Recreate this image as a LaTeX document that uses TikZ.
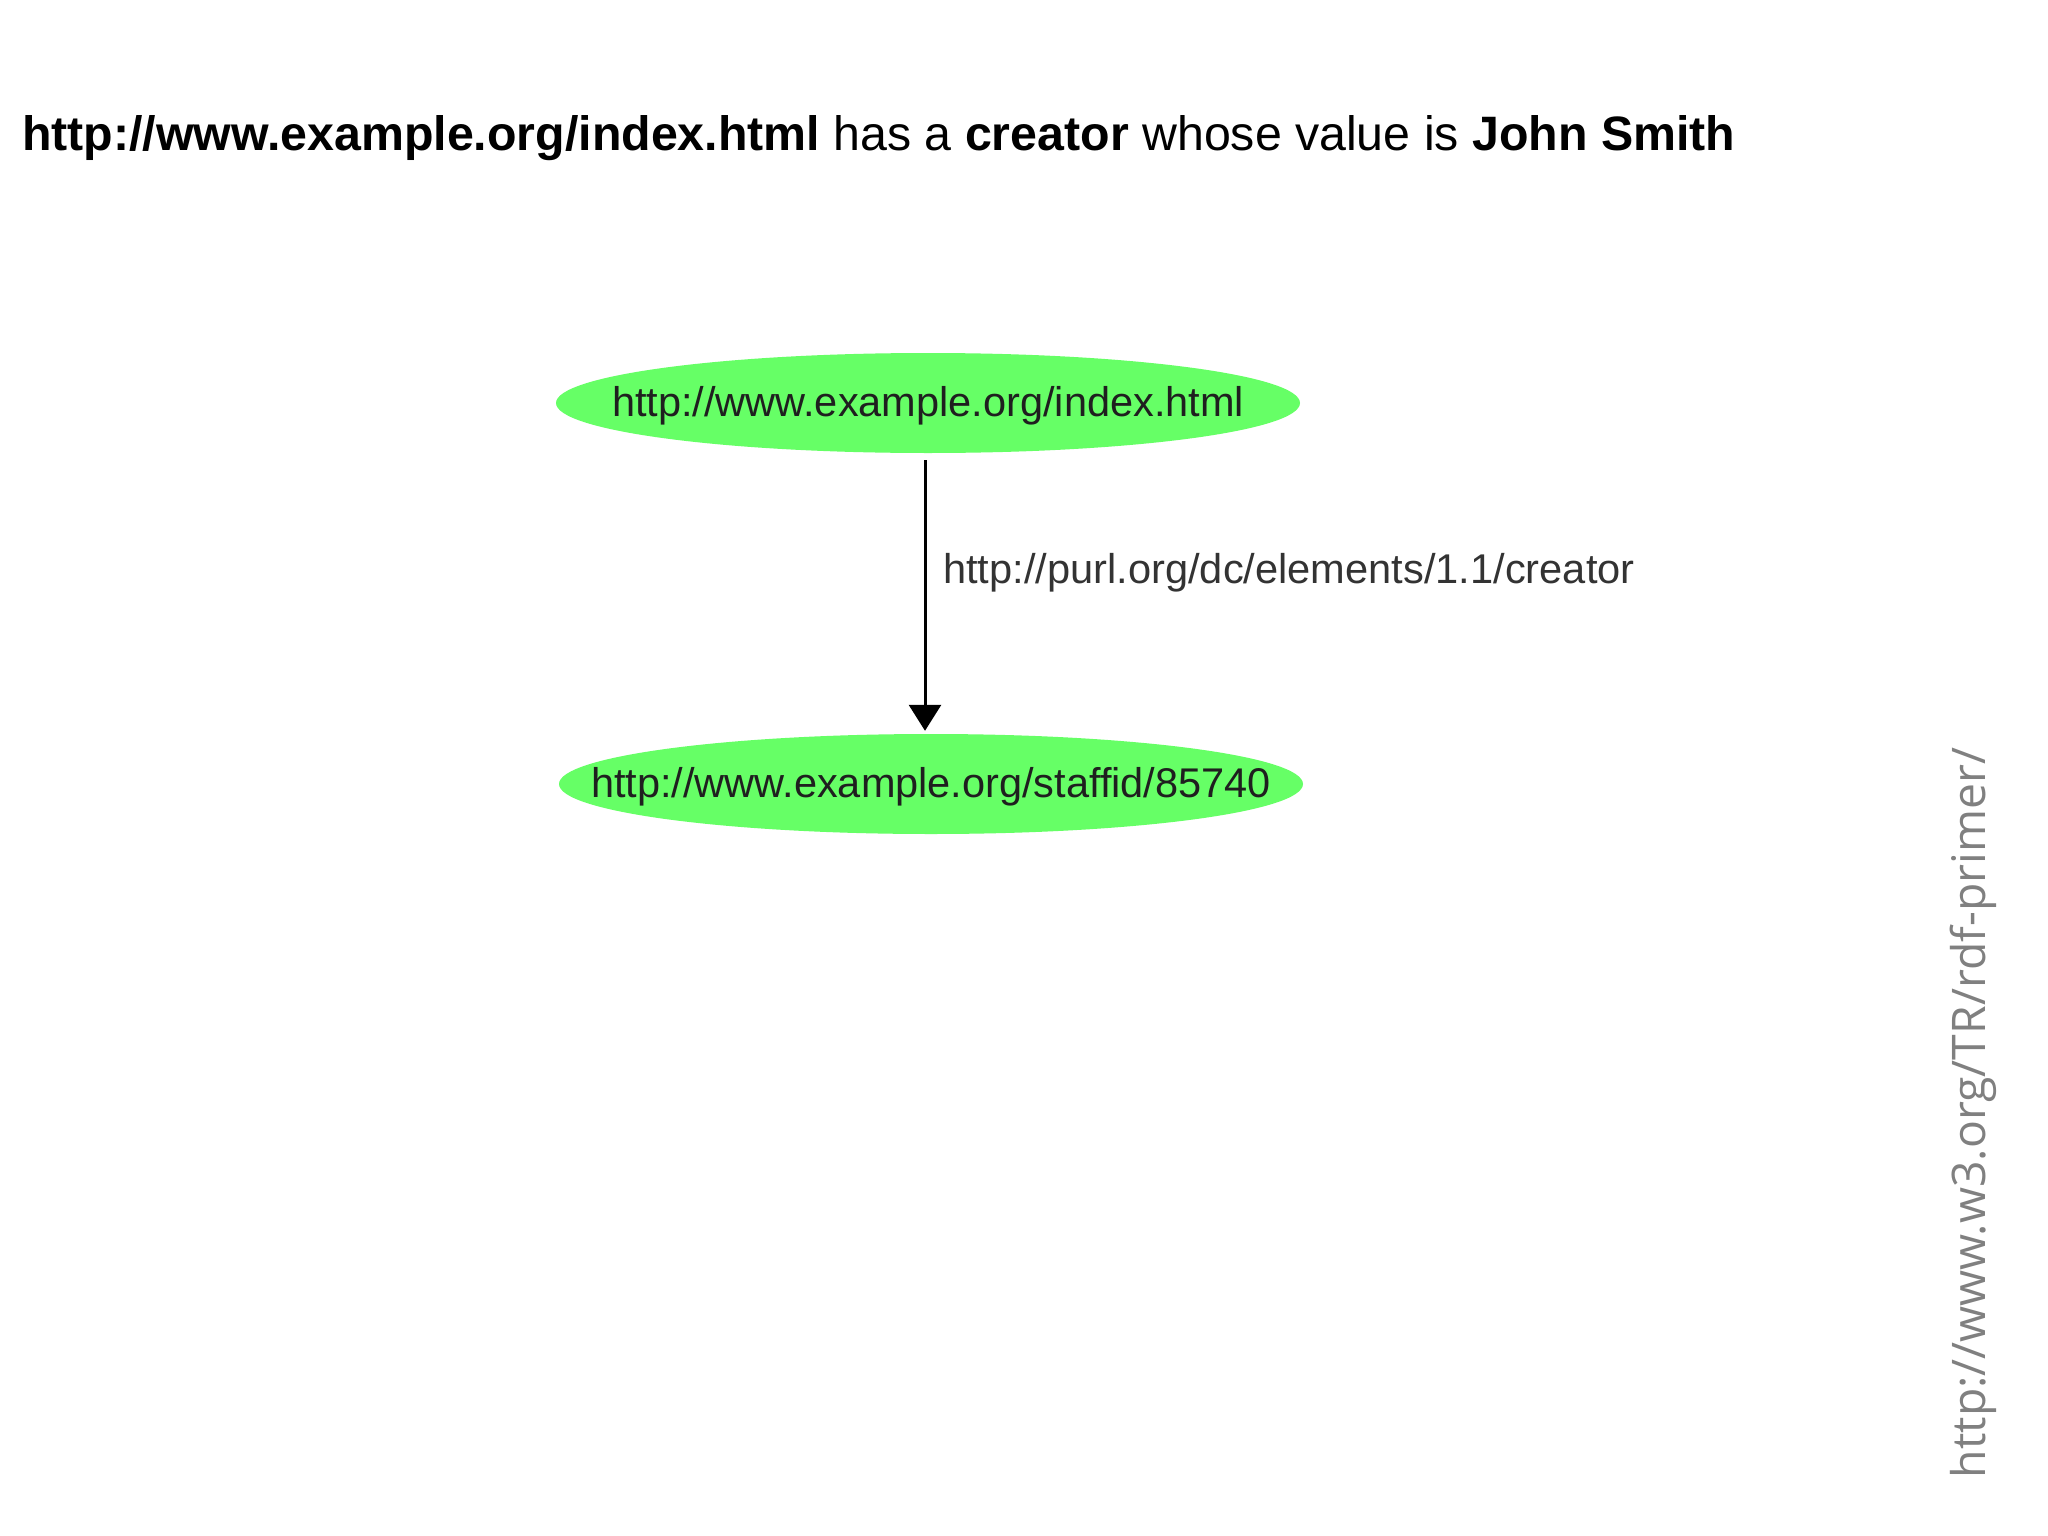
\documentclass[tikz,border=0pt]{standalone}
\usepackage{fontspec}
\setmainfont{Liberation Sans}
\newfontfamily\wmfont{Open Sans}
\usetikzlibrary{shapes.geometric,arrows.meta}
\definecolor{nodegreen}{RGB}{102,255,102}
\definecolor{labelgray}{RGB}{51,51,51}
\definecolor{wmgray}{RGB}{128,128,128}
\tikzset{
  resource/.style={ellipse, fill=nodegreen, draw=none, minimum width=744pt, minimum height=100pt, inner sep=0pt,
    font=\fontsize{41.5}{49}\selectfont, text=black!88},
  prop/.style={font=\fontsize{41.6}{49}\selectfont, text=labelgray, inner sep=0pt},
  link/.style={line width=3pt, -{Triangle[width=32pt,length=26pt]}},
}
\newcommand{\zw}[1]{\makebox[0pt]{\raisebox{-13.5pt}[0pt][0pt]{#1}}}
\begin{document}
\begin{tikzpicture}[x=1pt,y=-1pt]
\useasboundingbox (0,0) rectangle (2048,1536);
\fill[white] (0,0) rectangle (2048,1536);
\node[anchor=base west, inner sep=0pt, font=\fontsize{48.3}{58}\selectfont] (title) at (22,150)
  {\textbf{http://www.example.org/index.html} has a \textbf{creator} whose value is \textbf{John Smith}};
\node[resource] (subj) at (928,403) {\zw{http://www.example.org/index.html}};
\node[resource] (obj) at (931,784) {\zw{http://www.example.org/staffid/85740}};
\draw[link, shorten <=7pt, shorten >=3pt] (subj.south -| 925,0) -- (obj.north -| 925,0);
\node[prop, anchor=base west] (lbl) at (943,583) {http://purl.org/dc/elements/1.1/creator};
\node[rotate=90, inner sep=0pt, text=wmgray, font=\wmfont\fontsize{46.3}{55}\selectfont] (wm) at (1973,1113) {http://www.w3.org/TR/rdf-primer/};
\end{tikzpicture}
\end{document}
